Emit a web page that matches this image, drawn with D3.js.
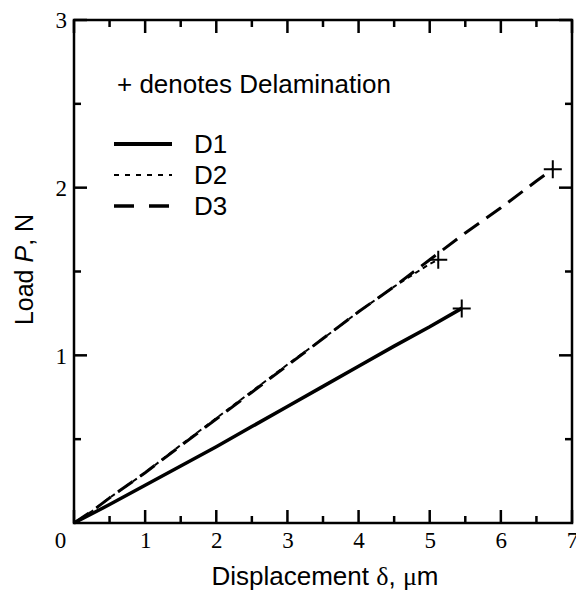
<!DOCTYPE html>
<html>
<head>
<meta charset="utf-8">
<script src="https://d3js.org/d3.v7.min.js"></script>
<style>
  body { margin: 0; background: #fff; }
  .sans { font-family: 'Liberation Sans', Arial, sans-serif; }
  .serif { font-family: 'Liberation Serif', 'Times New Roman', serif; }
</style>
</head>
<body>
<div id="vis"></div>

<script>
  // values (displacement in um, load in N)
  var d1X = [0, 0.5, 1, 1.5, 2, 2.5, 3, 3.5, 4, 4.5, 5, 5.45];
  var d1Y = [0, 0.11, 0.225, 0.34, 0.455, 0.575, 0.695, 0.815, 0.935, 1.055, 1.17, 1.28];

  var d2X = [0, 0.25, 0.5, 1, 1.5, 2, 2.5, 3, 3.5, 4, 4.5, 5, 5.12];
  var d2Y = [0, 0.07, 0.15, 0.30, 0.465, 0.625, 0.785, 0.945, 1.10, 1.26, 1.41, 1.545, 1.57];

  var d3X = [0, 0.25, 0.5, 1, 1.5, 2, 2.5, 3, 3.5, 4, 4.5, 5, 5.5, 6, 6.5, 6.73];
  var d3Y = [0, 0.07, 0.15, 0.30, 0.46, 0.62, 0.78, 0.94, 1.10, 1.26, 1.41, 1.57, 1.73, 1.88, 2.04, 2.11];

  var seriesNames = ['D1', 'D2', 'D3'];
  var xTicks = [0, 1, 2, 3, 4, 5, 6, 7];
  var yTicks = [1, 2, 3];
  var xMinor = [0.5, 1.5, 2.5, 3.5, 4.5, 5.5, 6.5];
  var yMinor = [0.5, 1.5, 2.5];

  var margin = {top: 20, right: 4, bottom: 67, left: 74};
  var width = 576 - margin.left - margin.right;
  var height = 590 - margin.top - margin.bottom;

  var svg = d3.select('#vis')
    .append('svg')
    .attr('width', 576)
    .attr('height', 590)
    .append('g')
    .attr('transform', 'translate(' + margin.left + ',' + margin.top + ')');

  var x = d3.scaleLinear().domain([0, 7]).range([0, width]);
  var y = d3.scaleLinear().domain([0, 3]).range([height, 0]);

  // frame
  svg.append('rect')
    .attr('width', width)
    .attr('height', height)
    .attr('fill', 'none')
    .attr('stroke', '#000')
    .attr('stroke-width', 2.5);

  // inward ticks on all four sides
  var tg = svg.append('g');
  function addTicks(vals, len, horiz) {
    vals.forEach(function(v) {
      var ends = horiz ? [[0, len], [width, width - len]] : [[height, height - len], [0, len]];
      ends.forEach(function(e) {
        tg.append('line')
          .attr('x1', horiz ? e[0] : x(v))
          .attr('x2', horiz ? e[1] : x(v))
          .attr('y1', horiz ? y(v) : e[0])
          .attr('y2', horiz ? y(v) : e[1])
          .style('stroke', '#000')
          .style('stroke-width', 2.5);
      });
    });
  }
  addTicks(xTicks, 13, false);
  addTicks(xMinor, 7, false);
  addTicks(yTicks, 13, true);
  addTicks(yMinor, 7, true);

  // tick labels
  var xl = svg.append('g')
    .attr('transform', 'translate(0,' + height + ')')
    .call(d3.axisBottom(x).tickValues(xTicks).tickFormat(d3.format('d')).tickSize(0).tickPadding(0));
  xl.select('.domain').remove();
  xl.selectAll('text')
    .attr('class', 'serif')
    .attr('dy', null)
    .attr('y', 25)
    .style('font-size', '23px')
    .attr('x', function(d) { return d === 0 ? -14 : 0; });

  var yl = svg.append('g')
    .call(d3.axisLeft(y).tickValues(yTicks).tickFormat(d3.format('d')).tickSize(0).tickPadding(0));
  yl.select('.domain').remove();
  yl.selectAll('text')
    .attr('class', 'serif')
    .attr('x', -7)
    .attr('dy', '0.34em')
    .style('font-size', '23px');

  // axis titles
  var xTitle = svg.append('text')
    .attr('class', 'sans')
    .attr('x', width / 2 + 2)
    .attr('y', height + 62)
    .attr('text-anchor', 'middle')
    .style('font-size', '26px');
  xTitle.append('tspan').text('Displacement ');
  xTitle.append('tspan').attr('class', 'serif').text('δ');
  xTitle.append('tspan').text(', ');
  xTitle.append('tspan').attr('class', 'serif').text('μ');
  xTitle.append('tspan').text('m');

  var yTitle = svg.append('text')
    .attr('class', 'sans')
    .attr('transform', 'rotate(-90)')
    .attr('x', -(height / 2) + 2)
    .attr('y', -margin.left + 33)
    .attr('text-anchor', 'middle')
    .style('font-size', '25px');
  yTitle.append('tspan').text('Load  ');
  yTitle.append('tspan').style('font-style', 'italic').text('P');
  yTitle.append('tspan').text(', N');

  // curves
  var styles = {
    D1: {w: 3.5, dash: null, legW: 4, legDash: null},
    D2: {w: 2, dash: '5,4', legW: 1.8, legDash: '5,6'},
    D3: {w: 3, dash: '18,9', legW: 3.5, legDash: '20,15'}
  };
  var data = {
    D1: d1X.map(function(v, i) { return [v, d1Y[i]]; }),
    D2: d2X.map(function(v, i) { return [v, d2Y[i]]; }),
    D3: d3X.map(function(v, i) { return [v, d3Y[i]]; })
  };

  var line = d3.line()
    .x(function(d) { return x(d[0]); })
    .y(function(d) { return y(d[1]); });

  seriesNames.forEach(function(name) {
    svg.append('path')
      .datum(data[name])
      .attr('d', line)
      .style('fill', 'none')
      .style('stroke', '#000')
      .style('stroke-width', styles[name].w)
      .style('stroke-dasharray', styles[name].dash);
  });

  // delamination markers at the last point of each curve
  svg.append('g').selectAll('path')
    .data(seriesNames.map(function(n) { return data[n][data[n].length - 1]; }))
    .enter()
    .append('path')
    .attr('transform', function(d) { return 'translate(' + x(d[0]) + ',' + y(d[1]) + ')'; })
    .attr('d', 'M-9,0H9M0,-9V9')
    .style('stroke', '#000')
    .style('stroke-width', 2);

  // legend
  svg.append('text')
    .attr('class', 'sans')
    .attr('x', 43)
    .attr('y', 73)
    .style('font-size', '26px')
    .text('+ denotes Delamination');

  var leg = svg.append('g').attr('transform', 'translate(40,124)');
  seriesNames.forEach(function(name, i) {
    leg.append('line')
      .attr('x1', 0).attr('x2', 58)
      .attr('y1', i * 31).attr('y2', i * 31)
      .style('stroke', '#000')
      .style('stroke-width', styles[name].legW)
      .style('stroke-dasharray', styles[name].legDash);
    leg.append('text')
      .attr('class', 'sans')
      .attr('x', 80)
      .attr('y', i * 31 + 9)
      .style('font-size', '26px')
      .text(name);
  });
</script>
</body>
</html>
